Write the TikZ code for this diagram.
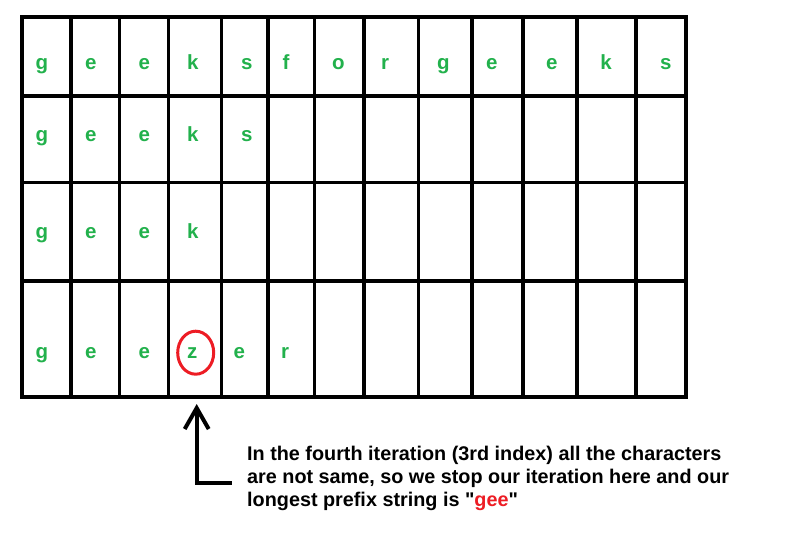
\documentclass[tikz,border=0pt]{standalone}
\usepackage{fontspec}
\setmainfont{Liberation Sans}
\usepackage{tikz}
\usetikzlibrary{arrows.meta}
\definecolor{paintgreen}{RGB}{34,177,76}
\definecolor{paintred}{RGB}{237,28,36}
\tikzset{>={Straight Barb[length=21pt,width=24pt]}}

\begin{document}
\begin{tikzpicture}[x=1pt,y=-1pt,
    letter/.style={text=paintgreen,font=\fontsize{20.5}{24}\selectfont\bfseries,inner sep=0pt,anchor=base},
    frame/.style={line width=3.6pt},
    ring/.style={draw=paintred,line width=3pt},
    pointer/.style={->,line width=4pt}]
\useasboundingbox[fill=white] (0,0) rectangle (790,543);
% the table
\draw[frame] (21.7,17.3) rectangle (686,397);
\draw[frame] (21.7,95.7) -- (686,95.7) (21.7,182.3) -- (686,182.3) (21.7,281) -- (686,281);
\draw[frame] (70.7,17.3) -- (70.7,397) (119.3,17.3) -- (119.3,397)
  (168.3,17.3) -- (168.3,397) (221.3,17.3) -- (221.3,397)
  (267.7,17.3) -- (267.7,397) (314.3,17.3) -- (314.3,397)
  (364,17.3) -- (364,397) (418.3,17.3) -- (418.3,397)
  (471.7,17.3) -- (471.7,397) (522.7,17.3) -- (522.7,397)
  (576.7,17.3) -- (576.7,397) (635.7,17.3) -- (635.7,397);
% first string
\node[letter] (a1) at (42,69.5) {g};
\node[letter] (a2) at (90.7,69.5) {e};
\node[letter] (a3) at (144.3,69.5) {e};
\node[letter] (a4) at (192.7,69.5) {k};
\node[letter] (a5) at (246.7,69.5) {s};
\node[letter] (a6) at (286,69.5) {f};
\node[letter] (a7) at (338.3,69.5) {o};
\node[letter] (a8) at (385,69.5) {r};
\node[letter] (a9) at (443.3,69.5) {g};
\node[letter] (a10) at (491.7,69.5) {e};
\node[letter] (a11) at (551.7,69.5) {e};
\node[letter] (a12) at (606,69.5) {k};
\node[letter] (a13) at (665.7,69.5) {s};
% second string
\node[letter] (b1) at (42,141) {g};
\node[letter] (b2) at (90.7,141) {e};
\node[letter] (b3) at (144.3,141) {e};
\node[letter] (b4) at (192.7,141) {k};
\node[letter] (b5) at (246.7,141) {s};
% third string
\node[letter] (c1) at (42,238) {g};
\node[letter] (c2) at (90.7,238) {e};
\node[letter] (c3) at (144.3,238) {e};
\node[letter] (c4) at (192.7,238) {k};
% fourth string
\node[letter] (d1) at (42,358) {g};
\node[letter] (d2) at (90.7,358) {e};
\node[letter] (d3) at (144.3,358) {e};
\node[letter] (d4) at (192.3,358) {z};
\node[letter] (d5) at (239.3,358) {e};
\node[letter] (d6) at (285,358) {r};
\draw[ring] (195.7,352.7) ellipse (18pt and 21.5pt);
% note and arrow
\node[anchor=west,align=left,inner sep=0pt,font=\fontsize{19.8}{23.3}\selectfont\bfseries] (note) at (247,478.3)
  {In the fourth iteration (3rd index) all the characters\\
   are not same, so we stop our iteration here and our\\
   longest prefix string is \textquotedbl\textcolor{paintred}{gee}\textquotedbl};
\coordinate (bend) at (231.7,483.3);
\coordinate (tip) at (196.7,404);
\draw[pointer] (bend) -| (tip);
\end{tikzpicture}
\end{document}
